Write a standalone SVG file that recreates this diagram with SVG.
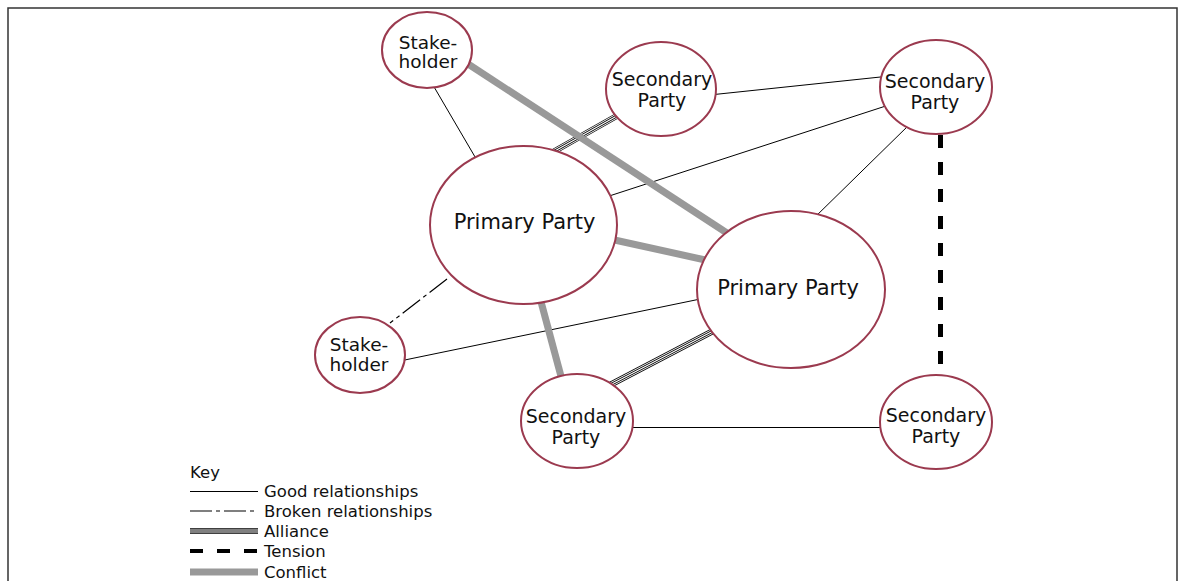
<svg xmlns="http://www.w3.org/2000/svg" width="1178" height="581" viewBox="0 0 1178 581">
<style>
.frame{fill:none;stroke:#333;stroke-width:1.5}
.node{fill:#fff;stroke:#9b3a4f;stroke-width:2}
.t{font-family:"DejaVu Sans","Liberation Sans",sans-serif;fill:#111;text-anchor:middle}
.big{font-size:21px}
.sm{font-size:19px}
.sh{font-size:18.5px}
.key{font-family:"DejaVu Sans","Liberation Sans",sans-serif;fill:#111;font-size:16.5px}
.good{stroke:#000;stroke-width:1;fill:none}
.broken{stroke:#000;stroke-width:1.2;fill:none;stroke-dasharray:22 4 4 4}
.a1{stroke:#000;stroke-width:6;fill:none}
.a2{stroke:#fff;stroke-width:4.4;fill:none}
.a3{stroke:#000;stroke-width:2.8;fill:none}
.a4{stroke:#fff;stroke-width:1.2;fill:none}
.tension{stroke:#000;stroke-width:5;fill:none;stroke-dasharray:13 14}
.conflict{stroke:#999;stroke-width:7;fill:none}
</style>
<path class="frame" d="M8 600 V8 H1177 V600"/>
<g id="connectors">
<line class="good" x1="430" y1="80" x2="478" y2="162"/>
<line class="good" x1="700" y1="96" x2="890" y2="76"/>
<line class="good" x1="600" y1="199" x2="895" y2="103"/>
<line class="good" x1="812" y1="220" x2="910" y2="124"/>
<line class="good" x1="395" y1="362" x2="710" y2="297"/>
<line class="good" x1="620" y1="427.5" x2="890" y2="427.5"/>
<line class="broken" x1="447" y1="279" x2="390" y2="323"/>
<g>
<line class="a1" x1="553" y1="152" x2="622" y2="113"/>
<line class="a2" x1="553" y1="152" x2="622" y2="113"/>
<line class="a3" x1="553" y1="152" x2="622" y2="113"/>
<line class="a4" x1="553" y1="152" x2="622" y2="113"/>
</g>
<g>
<line class="a1" x1="715" y1="330" x2="608" y2="386"/>
<line class="a2" x1="715" y1="330" x2="608" y2="386"/>
<line class="a3" x1="715" y1="330" x2="608" y2="386"/>
<line class="a4" x1="715" y1="330" x2="608" y2="386"/>
</g>
<line class="tension" x1="940.5" y1="135" x2="940.5" y2="372"/>
<line class="conflict" x1="462" y1="60" x2="730" y2="235"/>
<line class="conflict" x1="610" y1="239" x2="710" y2="261"/>
<line class="conflict" x1="540" y1="298" x2="562" y2="380"/>
</g>
<g id="stakeholder-top">
<ellipse class="node" cx="427" cy="50" rx="45" ry="38"/>
<text class="t sh" x="428" y="49">Stake-</text>
<text class="t sh" x="428" y="68">holder</text>
</g>
<g id="secondary-top-mid">
<ellipse class="node" cx="661" cy="89" rx="55" ry="47"/>
<text class="t sm" x="662" y="86">Secondary</text>
<text class="t sm" x="662" y="107">Party</text>
</g>
<g id="secondary-top-right">
<ellipse class="node" cx="936" cy="87" rx="56" ry="47"/>
<text class="t sm" x="935" y="88">Secondary</text>
<text class="t sm" x="935" y="109">Party</text>
</g>
<g id="primary-left">
<ellipse class="node" cx="523.5" cy="225" rx="93.5" ry="79"/>
<text class="t big" x="524.5" y="229">Primary Party</text>
</g>
<g id="primary-right">
<ellipse class="node" cx="791" cy="289.5" rx="94" ry="78.5"/>
<text class="t big" x="788" y="295">Primary Party</text>
</g>
<g id="stakeholder-bottom">
<ellipse class="node" cx="360" cy="355" rx="45" ry="38"/>
<text class="t sh" x="359" y="351">Stake-</text>
<text class="t sh" x="359" y="371">holder</text>
</g>
<g id="secondary-bottom-mid">
<ellipse class="node" cx="577" cy="421" rx="56" ry="47"/>
<text class="t sm" x="576" y="423">Secondary</text>
<text class="t sm" x="576" y="444">Party</text>
</g>
<g id="secondary-bottom-right">
<ellipse class="node" cx="936" cy="422" rx="56" ry="47"/>
<text class="t sm" x="936" y="422">Secondary</text>
<text class="t sm" x="936" y="443">Party</text>
</g>
<g id="key">
<text class="key" x="190" y="478">Key</text>
<line class="good" x1="190" y1="491.5" x2="258" y2="491.5"/>
<text class="key" x="264" y="497">Good relationships</text>
<line class="broken" x1="190" y1="511" x2="258" y2="511"/>
<text class="key" x="264" y="517">Broken relationships</text>
<line class="a1" x1="190" y1="531" x2="258" y2="531"/>
<line class="a2" x1="190" y1="531" x2="258" y2="531"/>
<line class="a3" x1="190" y1="531" x2="258" y2="531"/>
<line class="a4" x1="190" y1="531" x2="258" y2="531"/>
<text class="key" x="264" y="537">Alliance</text>
<line class="tension" x1="190" y1="551" x2="258" y2="551" style="stroke-dasharray:13 14;stroke-width:4"/>
<text class="key" x="264" y="557">Tension</text>
<line class="conflict" x1="190" y1="572" x2="258" y2="572"/>
<text class="key" x="264" y="578">Conflict</text>
</g>
</svg>
